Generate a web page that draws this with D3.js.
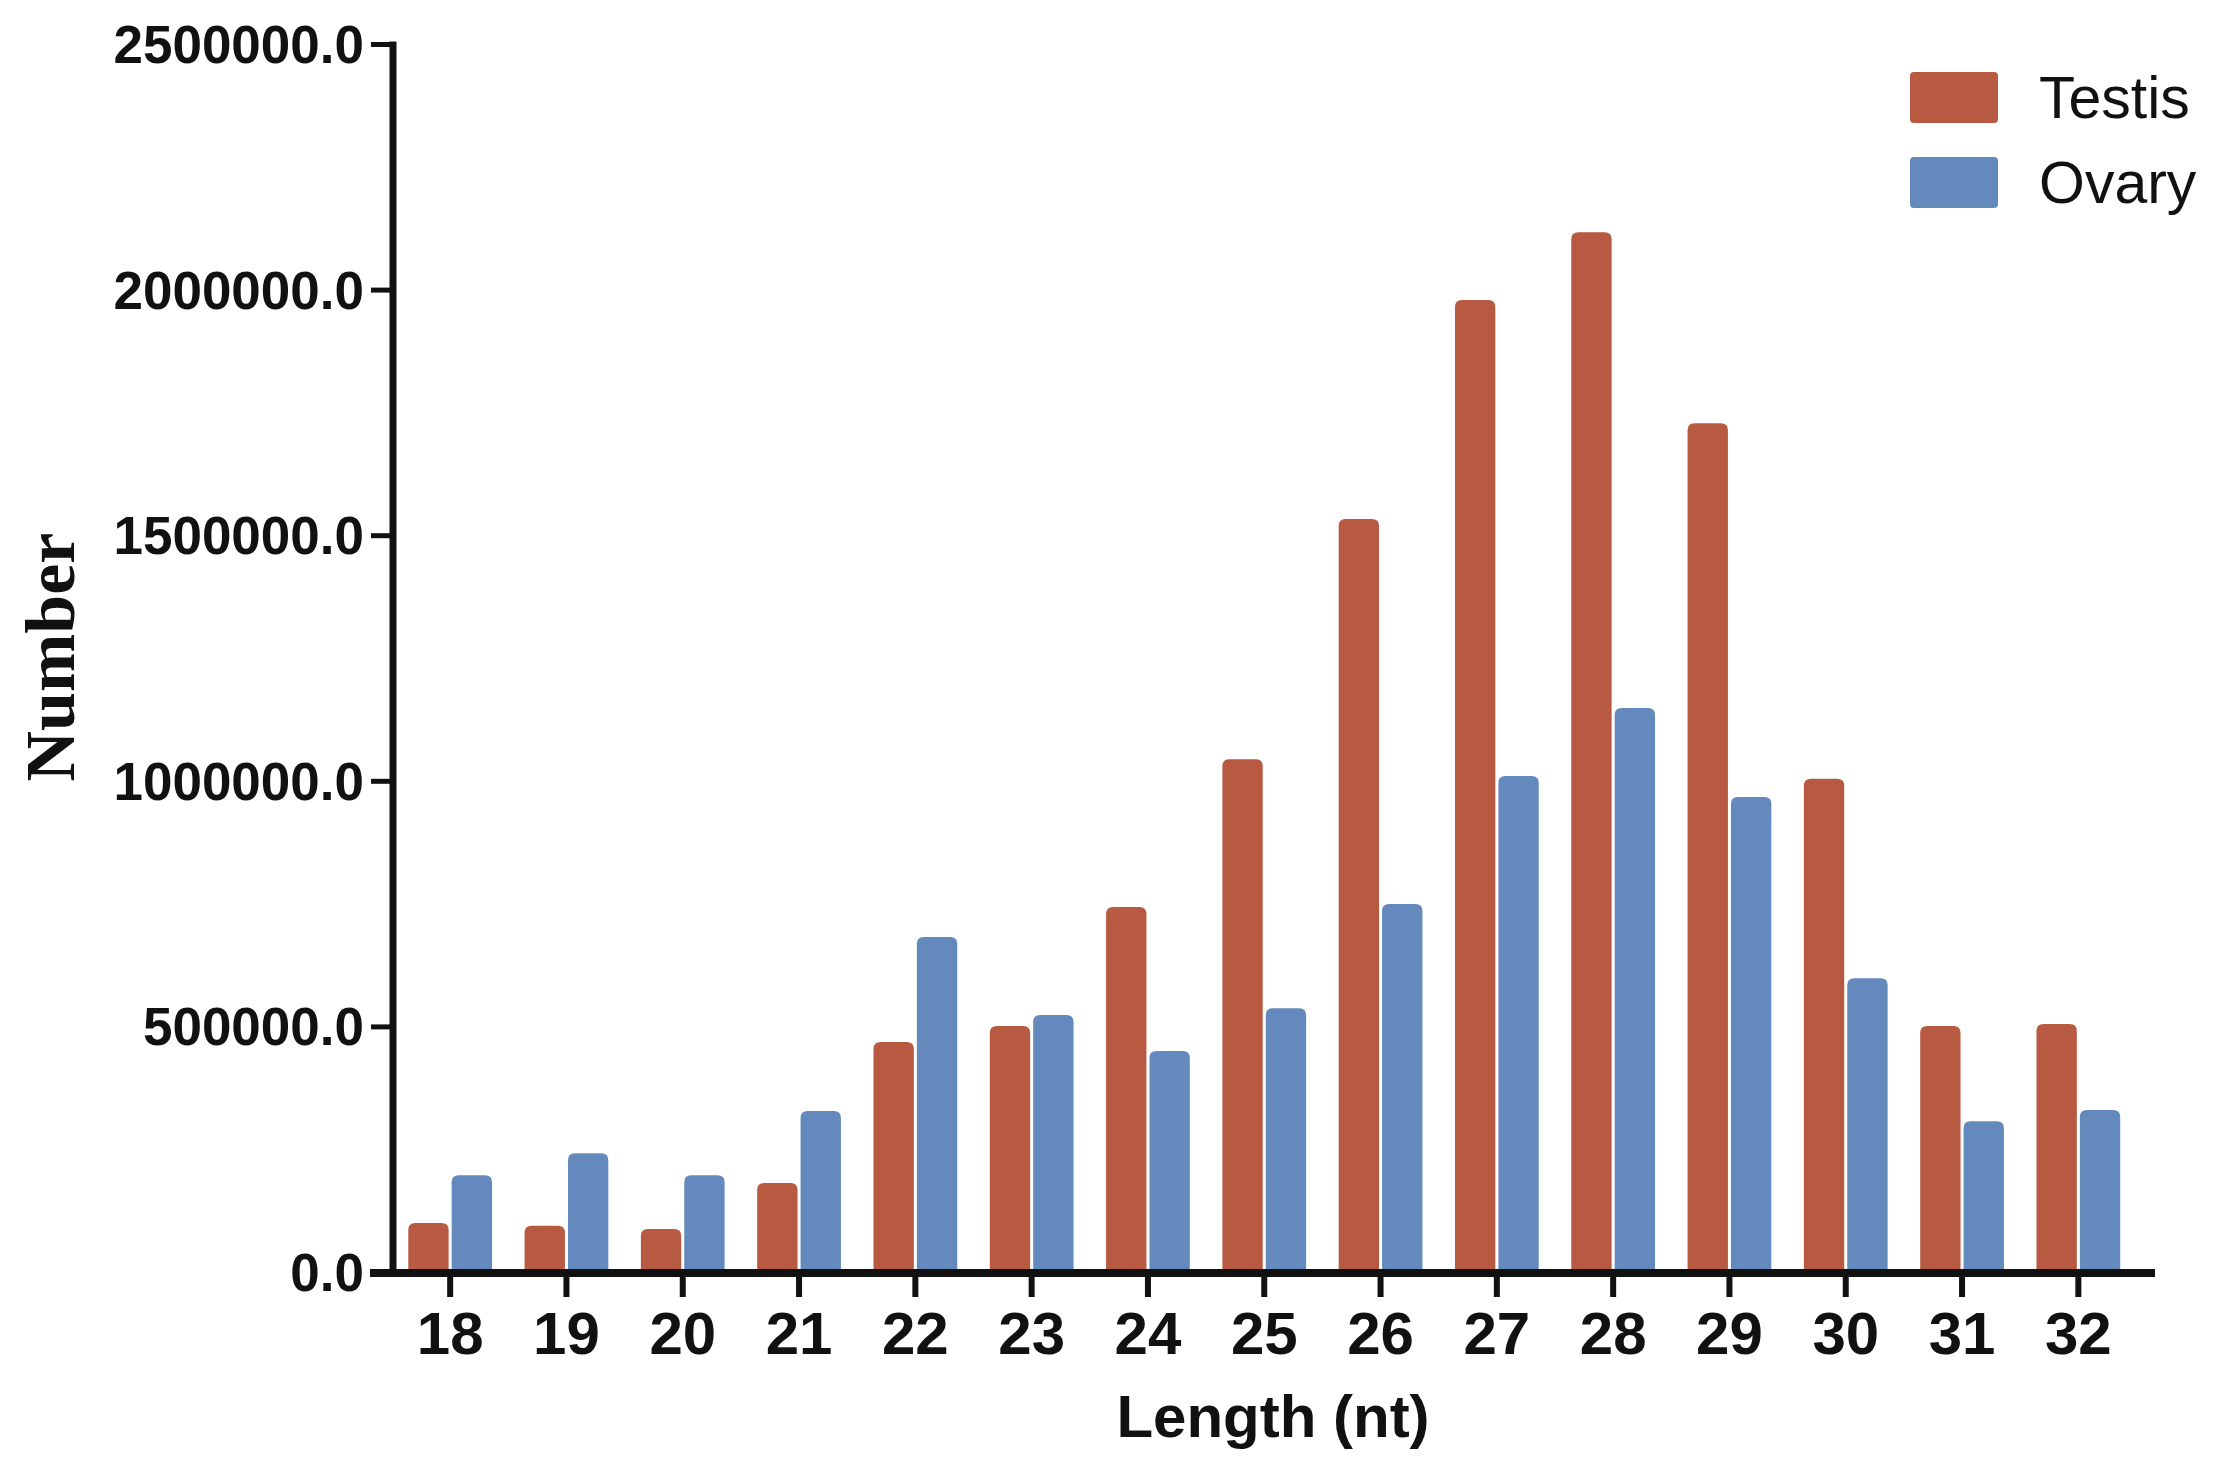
<!DOCTYPE html>
<html>
<head>
<meta charset="utf-8">
<script src="https://cdn.jsdelivr.net/npm/d3@7"></script>
<style>
  html, body { margin: 0; padding: 0; background: #ffffff; }
  svg { display: block; }
</style>
</head>
<body>
<svg id="chart" width="2221" height="1473"></svg>
<script>
// ---- data ----
const lengths = [18, 19, 20, 21, 22, 23, 24, 25, 26, 27, 28, 29, 30, 31, 32];
const testis = [100000, 94000, 87500, 181000, 468000, 501000, 743000, 1044000, 1533000, 1979000, 2117000, 1728000, 1004000, 501000, 505000];
const ovary  = [197000, 242000, 197000, 328000, 682000, 523000, 450000, 537000, 749000, 1010000, 1148000, 967000, 598000, 307000, 330000];
const seriesNames = ["Testis", "Ovary"];
const seriesColors = ["#B85A42", "#6389BD"];
const yTicks = [0, 500000, 1000000, 1500000, 2000000, 2500000];

const svg = d3.select("#chart");
const sans = "Arial, 'Liberation Sans', Helvetica, sans-serif";

const x0 = d3.scaleBand().domain(lengths).range([392, 2136.5]).paddingInner(0.28).paddingOuter(0.14);
const x1 = d3.scaleBand().domain(seriesNames).range([0, x0.bandwidth()]).paddingInner(0.07);
const y = d3.scaleLinear().domain([0, 2500000]).range([1272, 44]);
const color = d3.scaleOrdinal().domain(seriesNames).range(seriesColors);

const rows = lengths.map((L, i) => ({ L, vals: [
  { name: "Testis", v: testis[i] },
  { name: "Ovary", v: ovary[i] }
]}));

function barPath(x, yTop, w, yBot, r) {
  r = Math.min(r, (yBot - yTop), w / 2);
  return `M${x},${yBot}V${yTop + r}Q${x},${yTop} ${x + r},${yTop}H${x + w - r}Q${x + w},${yTop} ${x + w},${yTop + r}V${yBot}Z`;
}

// bars
const groups = svg.append("g").selectAll("g").data(rows).join("g")
  .attr("transform", d => `translate(${x0(d.L)},0)`);
groups.selectAll("path").data(d => d.vals).join("path")
  .attr("d", d => barPath(x1(d.name), y(d.v), x1.bandwidth(), y(0), 7))
  .attr("fill", d => color(d.name));

// y axis
const yAxis = svg.append("g").attr("transform", "translate(393,0)")
  .call(d3.axisLeft(y).tickValues(yTicks).tickSize(22).tickSizeOuter(0).tickPadding(8)
    .tickFormat(d => d.toFixed(1)));
yAxis.select(".domain").remove();
yAxis.selectAll(".tick line").attr("stroke", "#111").attr("stroke-width", 5);
yAxis.selectAll(".tick text").attr("font-family", sans).attr("font-weight", "bold")
  .attr("font-size", 53).attr("fill", "#111").attr("x", -29).attr("dy", "0.35em");
svg.append("line").attr("x1", 393).attr("x2", 393).attr("y1", y(2500000) - 2.5).attr("y2", 1273)
  .attr("stroke", "#111").attr("stroke-width", 7);

// x axis
const xAxis = svg.append("g").attr("transform", "translate(0,1273)")
  .call(d3.axisBottom(x0).tickSize(24).tickSizeOuter(0));
xAxis.select(".domain").remove();
xAxis.selectAll(".tick line").attr("stroke", "#111").attr("stroke-width", 6);
xAxis.selectAll(".tick text").attr("font-family", sans).attr("font-weight", "bold")
  .attr("font-size", 60).attr("fill", "#111").attr("y", 81).attr("dy", 0);
svg.append("line").attr("x1", 370).attr("x2", 2155).attr("y1", 1273).attr("y2", 1273)
  .attr("stroke", "#111").attr("stroke-width", 8);

// axis titles
svg.append("text").attr("x", 1273).attr("y", 1437).attr("text-anchor", "middle")
  .attr("font-family", sans).attr("font-weight", "bold").attr("font-size", 60).attr("fill", "#111")
  .text("Length (nt)");
svg.append("text").attr("transform", "translate(74,657) rotate(-90)").attr("text-anchor", "middle")
  .attr("font-family", "'Times New Roman', 'Liberation Serif', serif").attr("font-weight", "bold")
  .attr("font-size", 70).attr("fill", "#111").text("Number");

// legend
const legend = svg.append("g").selectAll("g").data(seriesNames).join("g")
  .attr("transform", (d, i) => `translate(1910,${72 + i * 85})`);
legend.append("rect").attr("width", 88).attr("height", 51).attr("rx", 4)
  .attr("fill", d => color(d));
legend.append("text").attr("x", 129).attr("y", 46)
  .attr("font-family", sans).attr("font-size", 59).attr("fill", "#111").text(d => d);
</script>
</body>
</html>
